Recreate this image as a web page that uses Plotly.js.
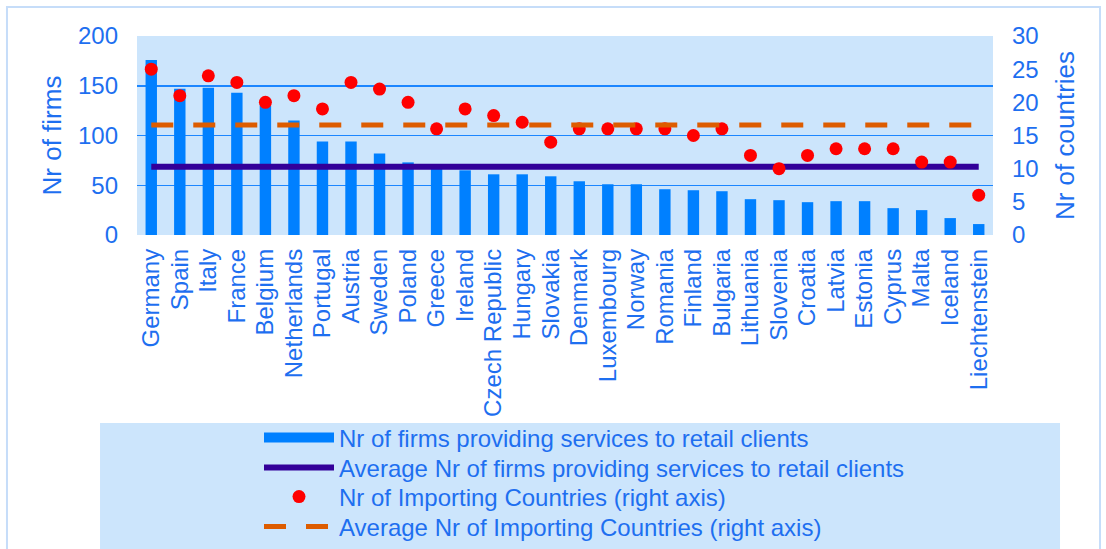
<!DOCTYPE html>
<html>
<head>
<meta charset="utf-8">
<script src="https://cdn.plot.ly/plotly-3.0.1.min.js"></script>
<style>html,body{margin:0;padding:0;background:#fff;}#chart{width:1106px;height:549px;}</style>
</head>
<body>
<div id="chart"></div>
<script>
const countries = ["Germany","Spain","Italy","France","Belgium","Netherlands","Portugal","Austria","Sweden","Poland","Greece","Ireland","Czech Republic","Hungary","Slovakia","Denmark","Luxembourg","Norway","Romania","Finland","Bulgaria","Lithuania","Slovenia","Croatia","Latvia","Estonia","Cyprus","Malta","Iceland","Liechtenstein"];
const firms = [176,147,148,143,130,115,94,94,82,73,68,65,61,61,59,54,51,51,46,45,44,36,35,33,34,34,27,25,17,11];
const importingCountries = [25,21,24,23,20,21,19,23,22,20,16,19,18,17,14,16,16,16,16,15,16,12,10,12,13,13,13,11,11,6];
const avgFirms = 68.6;
const avgCountries = 16.6;
const leftTicks = [0,50,100,150,200];
const rightTicks = [0,5,10,15,20,25,30];

const txt = '#1E6FF0';
const font = 'Liberation Sans, Arial, sans-serif';
const barColor = '#0080FF';

const traces = [
  {type:'bar', name:'Nr of firms providing services to retail clients', x:countries, y:firms,
   marker:{color:barColor}, yaxis:'y', showlegend:false, legendgroup:'bars'},
  {type:'scatter', mode:'lines', name:'Nr of firms providing services to retail clients',
   x:[null], y:[null], line:{color:barColor, width:12}, legend:'legend', legendgroup:'bars', hoverinfo:'skip'},
  {type:'scatter', mode:'lines', name:'Average Nr of firms providing services to retail clients',
   x:countries, y:countries.map(()=>avgFirms), line:{color:'#330099', width:6}, yaxis:'y', legend:'legend2'},
  {type:'scatter', mode:'markers', name:'Nr of Importing Countries (right axis)',
   x:countries, y:importingCountries, marker:{color:'#FF0000', size:13}, yaxis:'y2', legend:'legend3'},
  {type:'scatter', mode:'lines', name:'Average Nr of Importing Countries (right axis)',
   x:countries, y:countries.map(()=>avgCountries), line:{color:'#DD5C00', width:5, dash:'22px,20px'}, yaxis:'y2', legend:'legend4'}
];

function leg(py){
  return {xref:'container', yref:'container', orientation:'h', x:259/1106, xanchor:'left', y:1-py/549, yanchor:'middle',
    bgcolor:'rgba(0,0,0,0)', font:{size:24, color:txt, family:font}, itemwidth:70};
}

const layout = {
  width:1106, height:549,
  margin:{l:137, r:113, t:36, b:314},
  paper_bgcolor:'#ffffff',
  plot_bgcolor:'#CCE5FC',
  font:{family:font, color:txt, size:24},
  bargap:0.6,
  showlegend:true,
  xaxis:{type:'category', tickangle:-90, range:[-0.5,29.5], automargin:false,
    tickmode:'array', tickvals:countries, ticktext:countries, ticklabelstandoff:8,
    tickfont:{size:24, color:txt}, showgrid:false, ticks:'', showline:false},
  yaxis:{range:[0,200], tickvals:leftTicks, automargin:false,
    tickfont:{size:24, color:txt}, gridcolor:'#1C86FF', gridwidth:1.5, zeroline:false,
    ticklabelstandoff:18,
    title:{text:'Nr of firms', font:{size:26, color:txt}, standoff:8}},
  yaxis2:{range:[0,30], tickvals:rightTicks, overlaying:'y', side:'right', automargin:false,
    tickfont:{size:24, color:txt}, showgrid:false, zeroline:false,
    ticklabelstandoff:18,
    title:{text:'Nr of countries', font:{size:26, color:txt}, standoff:18}},
  legend:leg(438),
  legend2:leg(468),
  legend3:leg(497),
  legend4:leg(527),
  shapes:[
    {type:'rect', xref:'paper', yref:'paper', x0:-0.1519, x1:1.125, y0:-2.5, y1:1.1457,
     line:{color:'#C6DDF9', width:2}, fillcolor:'rgba(0,0,0,0)', layer:'below'},
    {type:'rect', xref:'paper', yref:'paper', x0:-0.0432, x1:1.0783, y0:-2.5, y1:-0.9447,
     line:{width:0}, fillcolor:'#CCE5FC', layer:'below'}
  ]
};

Plotly.newPlot('chart', traces, layout, {displayModeBar:false, staticPlot:true});
</script>
</body>
</html>
